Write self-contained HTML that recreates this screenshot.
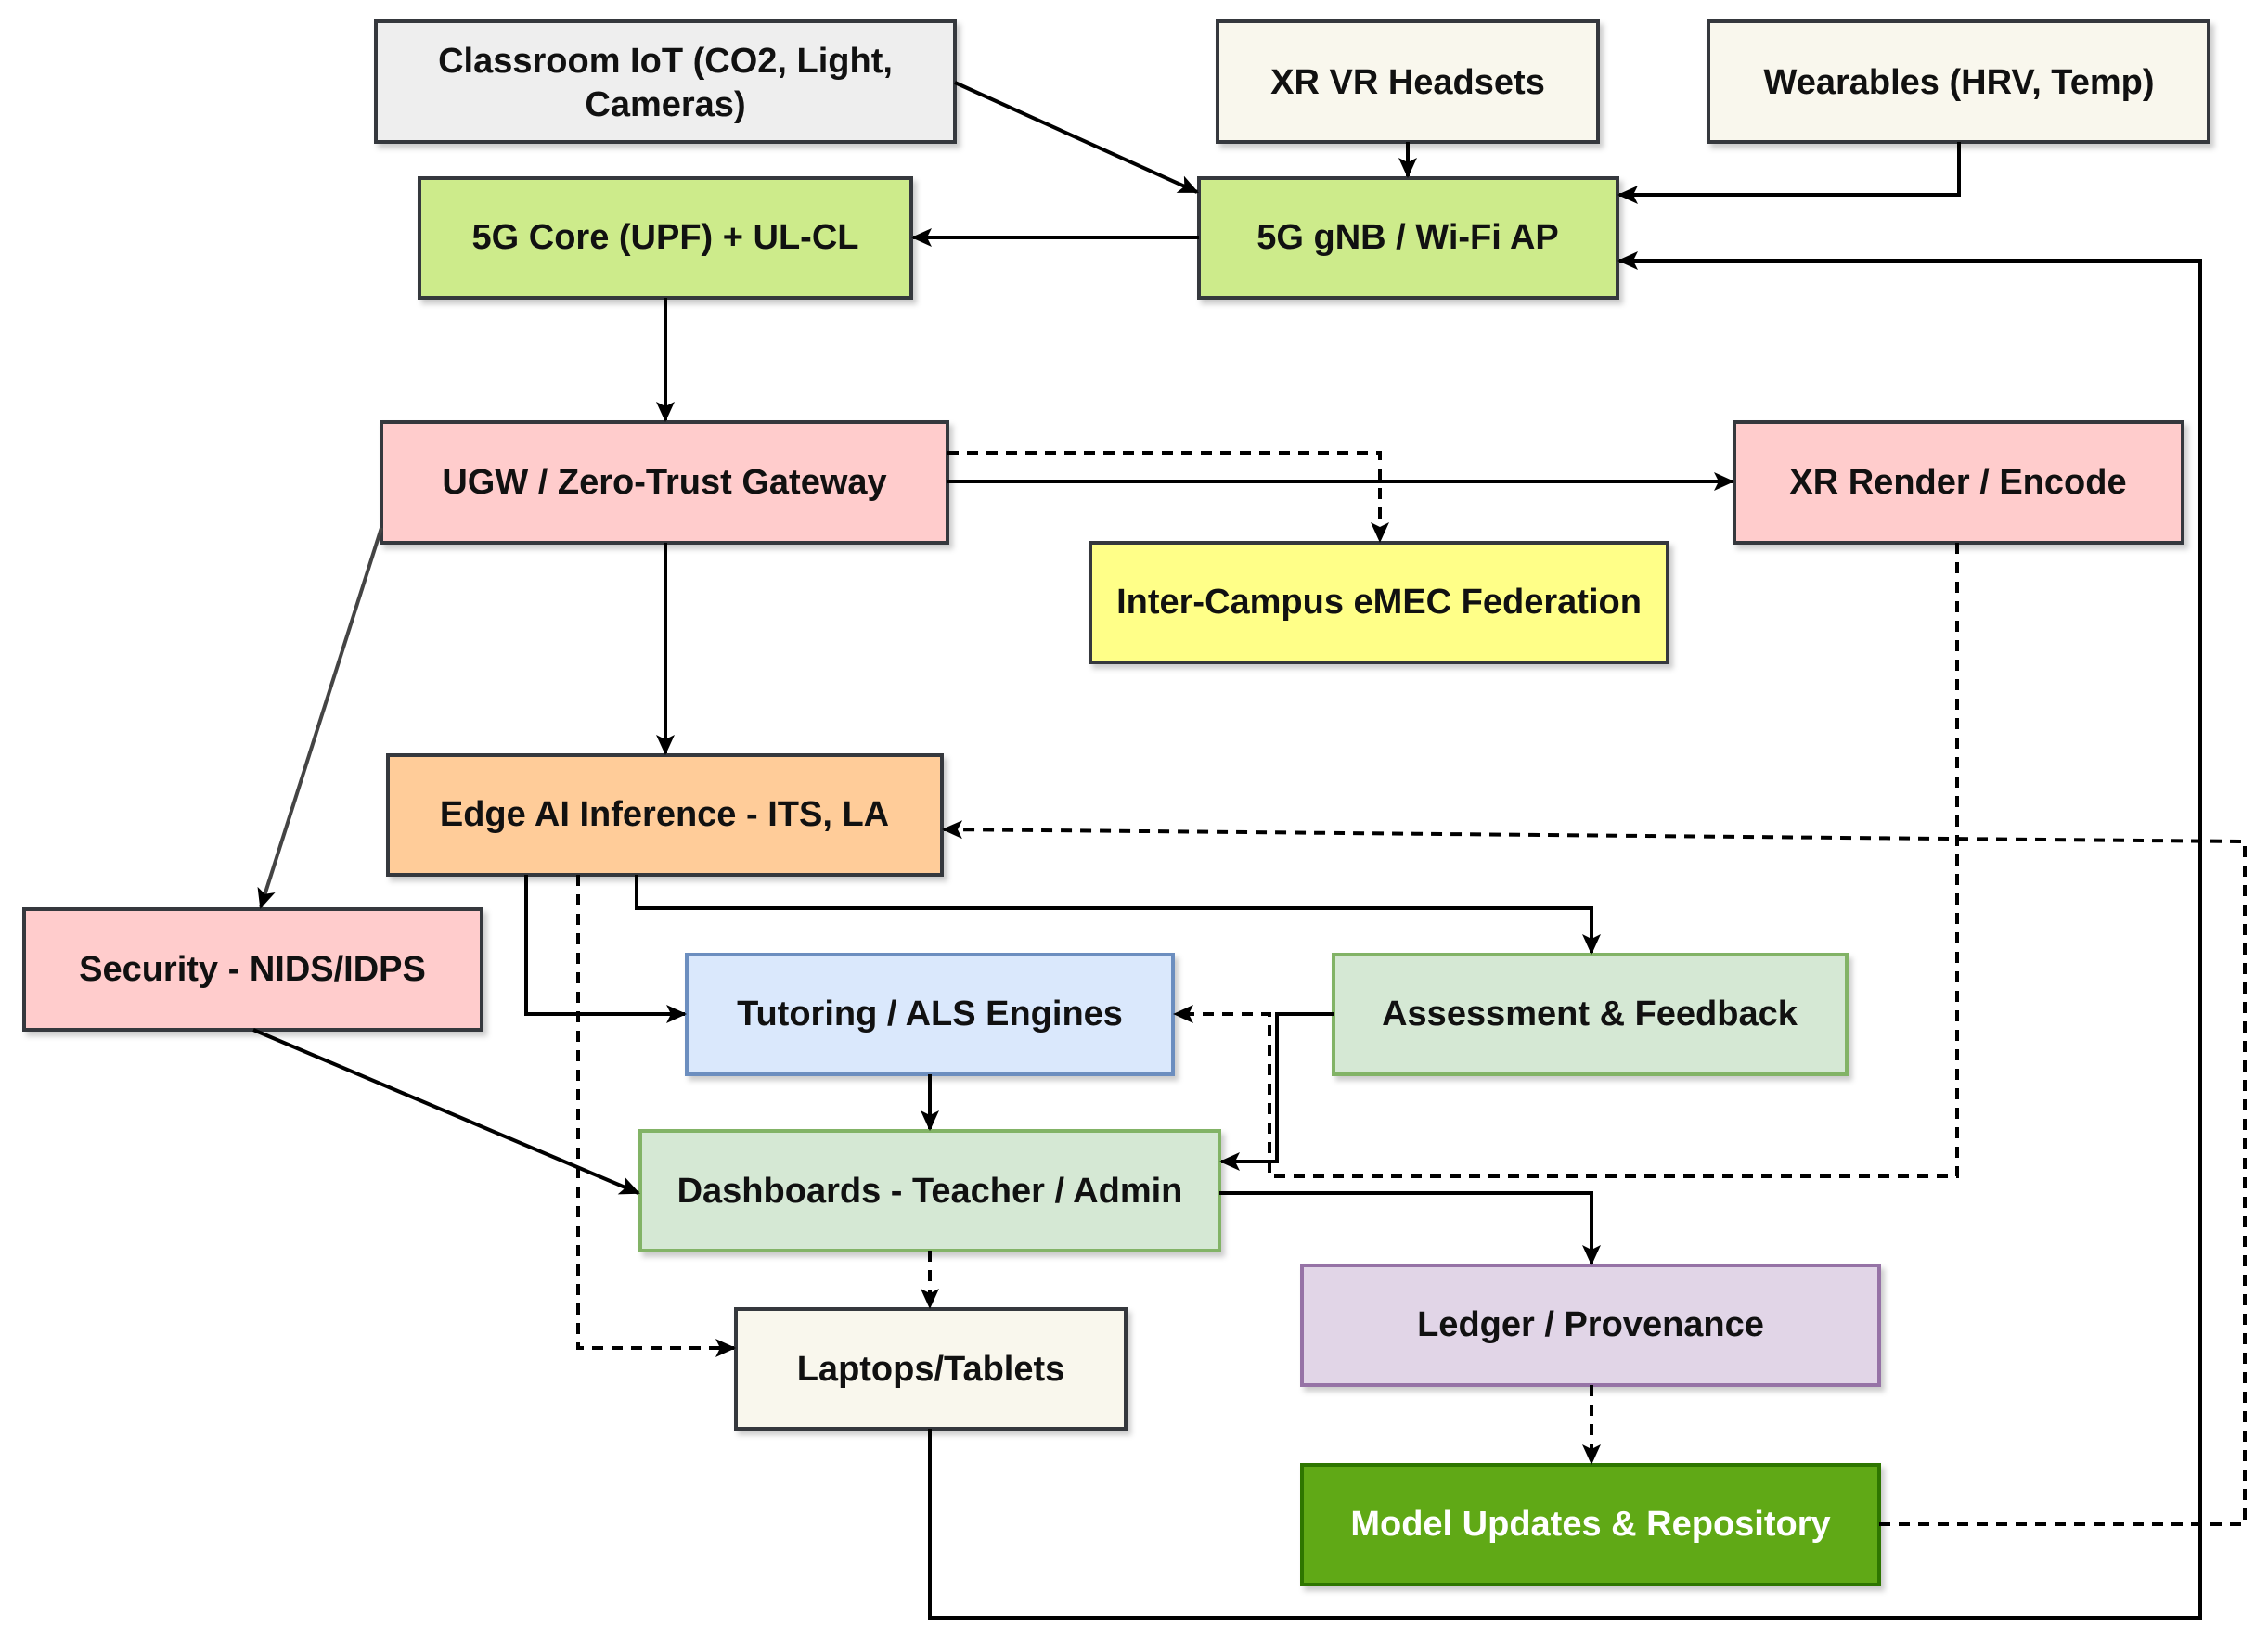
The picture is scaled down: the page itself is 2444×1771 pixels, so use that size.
<!DOCTYPE html>
<html><head><meta charset="utf-8"><style>
html,body{margin:0;padding:0;background:#fff;}
svg{display:block;}
text{font-family:"Liberation Sans",Arial,sans-serif;font-weight:bold;font-size:38px;fill:#111;text-anchor:middle;dominant-baseline:central;}
</style></head><body>
<svg width="2444" height="1771" viewBox="0 0 2444 1771" xmlns="http://www.w3.org/2000/svg">
<defs>
<marker id="a2" markerWidth="24" markerHeight="24" refX="20" refY="12" orient="auto" markerUnits="userSpaceOnUse" viewBox="0 0 24 24">
<path d="M0,2 L22,12 L0,22 L5,12 Z" fill="#000"/></marker>
<filter id="sh" x="-5%" y="-10%" width="115%" height="130%"><feDropShadow dx="4" dy="5" stdDeviation="3" flood-color="#000" flood-opacity="0.2"/></filter>
</defs>
<g stroke-width="4" fill="none">
<g filter="url(#sh)">
<rect x="405" y="23" width="624" height="130" fill="#eeeeee" stroke="#36393d"/>
<rect x="1312" y="23" width="410" height="130" fill="#f9f7ed" stroke="#36393d"/>
<rect x="1841" y="23" width="539" height="130" fill="#f9f7ed" stroke="#36393d"/>
<rect x="452" y="192" width="530" height="129" fill="#cdeb8b" stroke="#36393d"/>
<rect x="1292" y="192" width="451" height="129" fill="#cdeb8b" stroke="#36393d"/>
<rect x="411" y="455" width="610" height="130" fill="#ffcccc" stroke="#36393d"/>
<rect x="1869" y="455" width="483" height="130" fill="#ffcccc" stroke="#36393d"/>
<rect x="1175" y="585" width="622" height="129" fill="#ffff88" stroke="#36393d"/>
<rect x="418" y="814" width="597" height="129" fill="#ffcc99" stroke="#36393d"/>
<rect x="26" y="980" width="493" height="130" fill="#ffcccc" stroke="#36393d"/>
<rect x="740" y="1029" width="524" height="129" fill="#dae8fc" stroke="#6c8ebf"/>
<rect x="1437" y="1029" width="553" height="129" fill="#d5e8d4" stroke="#82b366"/>
<rect x="690" y="1219" width="624" height="129" fill="#d5e8d4" stroke="#82b366"/>
<rect x="793" y="1411" width="420" height="129" fill="#f9f7ed" stroke="#36393d"/>
<rect x="1403" y="1364" width="622" height="129" fill="#e1d5e7" stroke="#9673a6"/>
<rect x="1403" y="1579" width="622" height="129" fill="#60a917" stroke="#2d7600"/>
</g>
</g>
<g stroke="#000" stroke-width="4" fill="none">
<path d="M1029,89 L1290,207" marker-end="url(#a2)"/>
<path d="M1517,153 L1517,190" marker-end="url(#a2)"/>
<path d="M2111,153 L2111,210 L1745,210" marker-end="url(#a2)"/>
<path d="M1292,256 L984,256" marker-end="url(#a2)"/>
<path d="M717,321 L717,453" marker-end="url(#a2)"/>
<path d="M1021,519 L1867,519" marker-end="url(#a2)"/>
<path d="M1021,488 L1487,488 L1487,583" stroke-dasharray="12,9" marker-end="url(#a2)"/>
<path d="M717,585 L717,812" marker-end="url(#a2)"/>
<path d="M411,569 L281,978" stroke="#444" marker-end="url(#a2)"/>
<path d="M686,943 L686,979 L1715,979 L1715,1027" marker-end="url(#a2)"/>
<path d="M567,943 L567,1093 L738,1093" marker-end="url(#a2)"/>
<path d="M623,943 L623,1453 L791,1453" stroke-dasharray="12,9" marker-end="url(#a2)"/>
<path d="M2025,1643 L2419,1643 L2419,907 L1017,894" stroke-dasharray="12,9" marker-end="url(#a2)"/>
<path d="M1002,1540 L1002,1744 L2371,1744 L2371,281 L1745,281" marker-end="url(#a2)"/>
<path d="M2109,585 L2109,1268 L1368,1268 L1368,1093 L1266,1093" stroke-dasharray="12,9" marker-end="url(#a2)"/>
<path d="M1437,1093 L1376,1093 L1376,1252 L1316,1252" marker-end="url(#a2)"/>
<path d="M1002,1158 L1002,1217" marker-end="url(#a2)"/>
<path d="M273,1110 L688,1286" marker-end="url(#a2)"/>
<path d="M1314,1286 L1715,1286 L1715,1362" marker-end="url(#a2)"/>
<path d="M1002,1348 L1002,1409" stroke-dasharray="12,9" marker-end="url(#a2)"/>
<path d="M1715,1493 L1715,1577" stroke-dasharray="12,9" marker-end="url(#a2)"/>
</g>
<text x="717" y="66">Classroom IoT (CO2, Light,</text>
<text x="717" y="113">Cameras)</text>
<text x="1517" y="89">XR VR Headsets</text>
<text x="2111" y="89">Wearables (HRV, Temp)</text>
<text x="717" y="256">5G Core (UPF) + UL-CL</text>
<text x="1517" y="256">5G gNB / Wi-Fi AP</text>
<text x="716" y="520">UGW / Zero-Trust Gateway</text>
<text x="2110" y="520">XR Render / Encode</text>
<text x="1486" y="649">Inter-Campus eMEC Federation</text>
<text x="716" y="878">Edge AI Inference - ITS, LA</text>
<text x="272" y="1045">Security - NIDS/IDPS</text>
<text x="1002" y="1093">Tutoring / ALS Engines</text>
<text x="1713" y="1093">Assessment &amp; Feedback</text>
<text x="1002" y="1284">Dashboards - Teacher / Admin</text>
<text x="1003" y="1476">Laptops/Tablets</text>
<text x="1714" y="1428">Ledger / Provenance</text>
<text x="1714" y="1643" style="fill:#fff">Model Updates &amp; Repository</text>
</svg>
</body></html>
